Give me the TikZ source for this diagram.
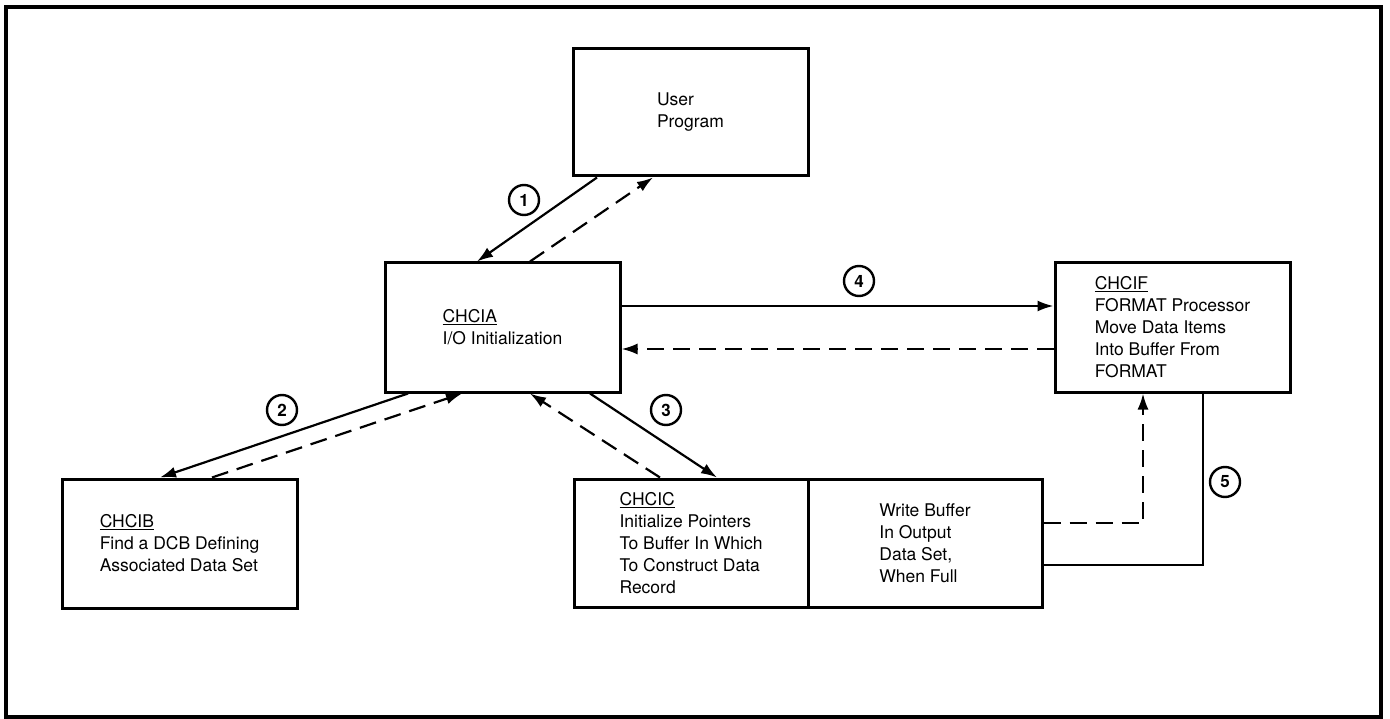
\documentclass[tikz,border=0pt]{standalone}
\usepackage{fontspec}
\setmainfont{TeX Gyre Heros}
\usetikzlibrary{arrows.meta}
\begin{document}
\begin{tikzpicture}[x=1pt,y=-1pt,
  box/.style={draw,line width=3pt,align=left,inner sep=0pt,
    font=\fontsize{17.5}{22}\selectfont},
  arr/.style={line width=2.2pt,-{Latex[length=16pt,width=11pt]}},
  dsh/.style={line width=2.2pt,dash pattern=on 17pt off 9pt},
  darr/.style={dsh,-{Latex[length=16pt,width=11pt]}},
  num/.style={circle,draw,line width=2.4pt,minimum size=30pt,inner sep=0pt,
    font=\fontsize{17}{17}\selectfont\bfseries}]
\useasboundingbox (0,0) rectangle (1390,719);
\draw[line width=3.4pt] (6,7) rectangle (1381,717);
% boxes
\node[box,minimum width=235pt,minimum height=127pt] (up) at (690.5,112.5) {User\\Program};
\node[box,minimum width=235pt,minimum height=129pt] (ia) at (502.5,327.5) {\underline{CHCIA}\\I/O Initialization};
\node[box,minimum width=235pt,minimum height=129pt] (ib) at (179.5,543.5) {\underline{CHCIB}\\Find a DCB Defining\\Associated Data Set};
\node[box,minimum width=235pt,minimum height=129pt] (if) at (1172.5,327.5) {\underline{CHCIF}\\FORMAT Processor\\Move Data Items\\Into Buffer From\\FORMAT};
\node[box,minimum width=234pt,minimum height=128pt] (ic) at (691,543) {\underline{CHCIC}\\Initialize Pointers\\To Buffer In Which\\To Construct Data\\Record};
\node[box,minimum width=234pt,minimum height=128pt] (wb) at (925,543) {Write Buffer\\In Output\\Data Set,\\When Full};
% connectors
\draw[arr] ([xshift=-93.5pt]up.south) -- ([xshift=-25.5pt]ia.north);
\draw[darr] ([xshift=27.5pt]ia.north) -- ([xshift=-37.5pt]up.south);
\draw[arr] ([xshift=-94.5pt]ia.south) -- ([xshift=-19.5pt]ib.north);
\draw[darr] ([xshift=32.5pt]ib.north) -- ([xshift=-40.5pt]ia.south);
\draw[arr] ([xshift=87.5pt]ia.south) -- ([xshift=26pt]ic.north);
\draw[darr] ([xshift=-31pt]ic.north) -- ([xshift=27.5pt]ia.south);
\draw[arr] ([yshift=21.5pt]ia.east) -- ([yshift=21.5pt]if.west);
\draw[darr] ([yshift=-21.5pt]if.west) -- ([yshift=-21.5pt]ia.east);
\draw[darr] ([yshift=20pt]wb.east) -| ([xshift=-29.5pt]if.south);
\draw[line width=2.2pt] ([xshift=30.5pt]if.south) |- ([yshift=-22pt]wb.east);
% numbers
\node[num] (n1) at (524,200) {1};
\node[num] (n2) at (282,410) {2};
\node[num] (n3) at (666,410) {3};
\node[num] (n4) at (859,281) {4};
\node[num] (n5) at (1225,482) {5};
\end{tikzpicture}
\end{document}
